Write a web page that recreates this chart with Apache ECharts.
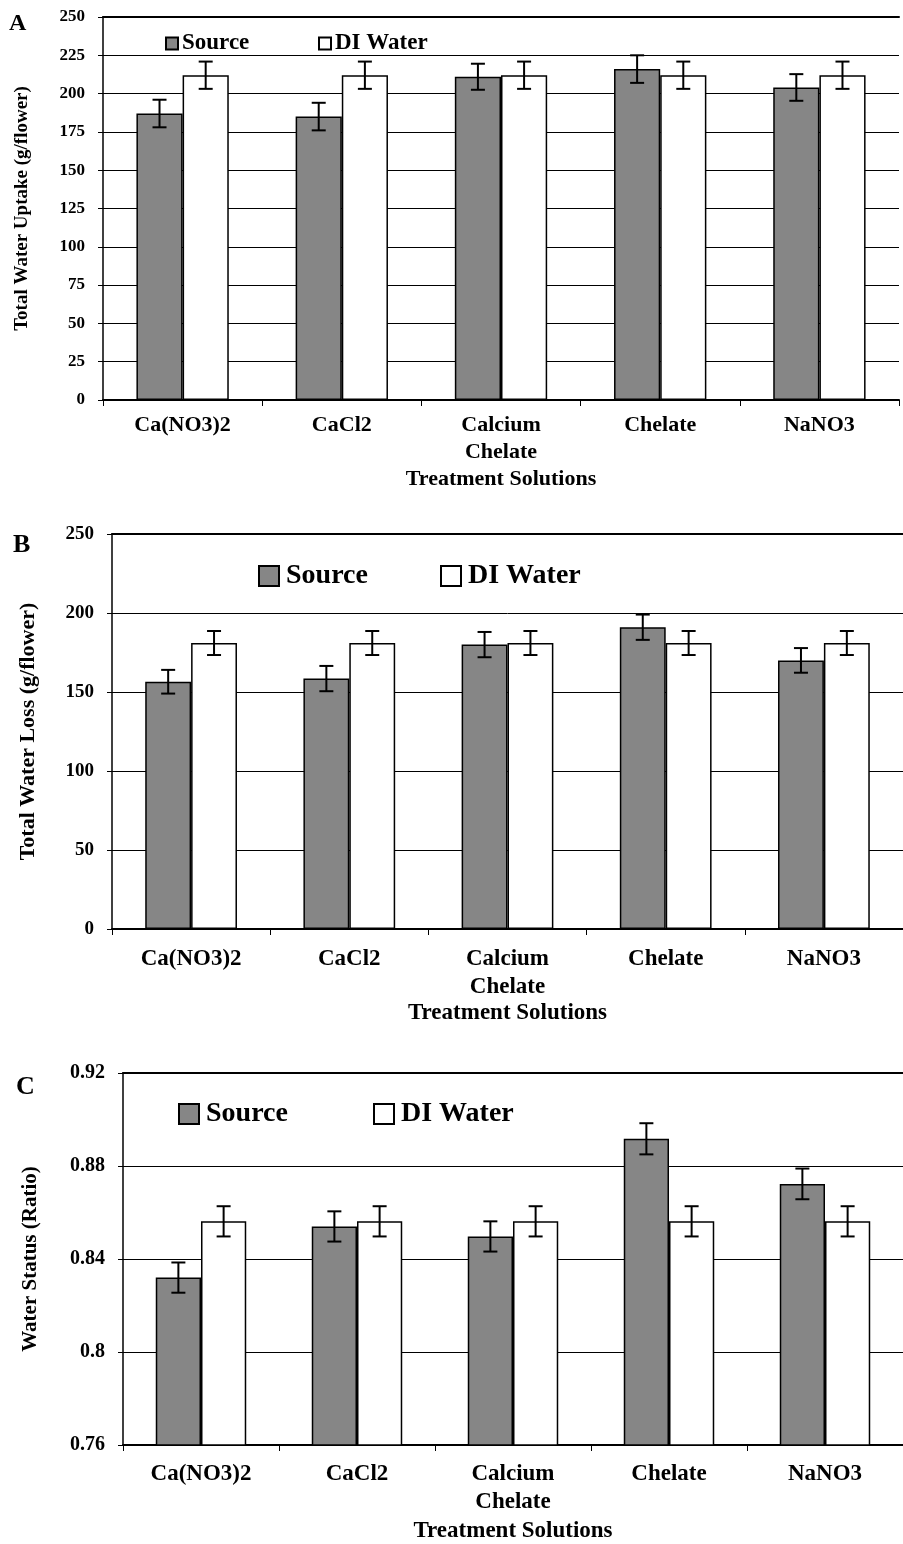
<!DOCTYPE html>
<html>
<head>
<meta charset="utf-8">
<script src="https://cdn.jsdelivr.net/npm/echarts@6/dist/echarts.min.js"></script>
<style>
html,body{margin:0;padding:0;background:#fff;overflow:hidden;}
#chart{width:903px;height:1544px;}
</style>
</head>
<body>
<div id="chart"></div>
<script>
const categories = ['Ca(NO3)2', 'CaCl2', 'Calcium\nChelate', 'Chelate', 'NaNO3'];
const seriesNames = ['Source', 'DI Water'];

const uptakeSource = [187, 185, 211, 216, 204];
const uptakeSourceErr = [9, 9, 8.5, 9, 8.7];
const uptakeDI = [212, 212, 212, 212, 212];
const uptakeDIErr = [8.9, 8.9, 8.9, 8.9, 8.9];

const lossSource = [156.5, 158.5, 180, 191, 170];
const lossSourceErr = [7.5, 8, 8, 8, 7.8];
const lossDI = [181, 181, 181, 181, 181];
const lossDIErr = [7.6, 7.6, 7.6, 7.6, 7.6];

const statusSource = [0.832, 0.854, 0.8497, 0.8917, 0.8723];
const statusSourceErr = [0.0065, 0.0065, 0.0065, 0.0067, 0.0066];
const statusDI = [0.8562, 0.8562, 0.8562, 0.8562, 0.8562];
const statusDIErr = [0.0065, 0.0065, 0.0065, 0.0065, 0.0065];

const yTitles = ['Total Water Uptake (g/flower)', 'Total Water Loss (g/flower)', 'Water Status (Ratio)'];
const xTitle = 'Treatment Solutions';
const panelLetters = ['A', 'B', 'C'];

const FONT = '"Liberation Serif", "Times New Roman", serif';
const BAR_W = 0.29;

const panels = [
  {src: uptakeSource, srcErr: uptakeSourceErr, di: uptakeDI, diErr: uptakeDIErr,
   min: 0, max: 250, interval: 25,
   grid: {left: 103, top: 17, width: 796, height: 383},
   tickFont: 17, catFont: 22, catLH: 27, catMargin: 12, nameGap: 68, xNameFont: 22,
   yNameFont: 19, yNameGap: 71, legendFont: 23, icon: 12, textPad: -1,
   legendTop: 32, legendLeft: [165, 318], letterPos: [9, 12], letterFont: 24},
  {src: lossSource, srcErr: lossSourceErr, di: lossDI, diErr: lossDIErr,
   min: 0, max: 250, interval: 50,
   grid: {left: 112, top: 534, width: 792, height: 395},
   tickFont: 19, catFont: 23, catLH: 28, catMargin: 16, nameGap: 68, xNameFont: 23,
   yNameFont: 22, yNameGap: 73, legendFont: 28, icon: 20, textPad: 2,
   legendTop: 562, legendLeft: [258, 440], letterPos: [13, 532], letterFont: 26},
  {src: statusSource, srcErr: statusSourceErr, di: statusDI, diErr: statusDIErr,
   min: 0.76, max: 0.92, interval: 0.04,
   grid: {left: 123, top: 1073, width: 787, height: 375},
   tickFont: 20, catFont: 23, catLH: 28, catMargin: 15, nameGap: 75, xNameFont: 23,
   yNameFont: 21, yNameGap: 82, legendFont: 28, icon: 20, textPad: 2,
   legendTop: 1100, legendLeft: [178, 373], letterPos: [16, 1074], letterFont: 26}
];

const option = {
  animation: false,
  backgroundColor: '#fff',
  textStyle: {fontFamily: FONT},
  grid: [], xAxis: [], yAxis: [], series: [], legend: [], graphic: []
};

function errRender(params, api) {
  const x = api.value(0);
  const side = api.value(3);
  const lo = api.coord([x, api.value(1)]);
  const hi = api.coord([x, api.value(2)]);
  const band = api.size([1, 0])[0];
  const cx = lo[0] + side * band * BAR_W / 2;
  const cap = 7;
  const st = {stroke: '#000', lineWidth: 2};
  return {type: 'group', children: [
    {type: 'line', shape: {x1: cx, y1: hi[1], x2: cx, y2: lo[1]}, style: st},
    {type: 'line', shape: {x1: cx - cap, y1: hi[1], x2: cx + cap, y2: hi[1]}, style: st},
    {type: 'line', shape: {x1: cx - cap, y1: lo[1], x2: cx + cap, y2: lo[1]}, style: st}
  ]};
}

panels.forEach((p, i) => {
  option.grid.push(Object.assign({containLabel: false}, p.grid));
  option.xAxis.push({
    type: 'category', gridIndex: i, data: categories,
    name: xTitle, nameLocation: 'middle', nameGap: p.nameGap,
    nameTextStyle: {fontFamily: FONT, fontWeight: 'bold', fontSize: p.xNameFont, color: '#000'},
    axisLine: {lineStyle: {color: '#000', width: 2}},
    axisTick: {show: true, length: 6, lineStyle: {color: '#000', width: 1}},
    axisLabel: {fontFamily: FONT, fontWeight: 'bold', fontSize: p.catFont, color: '#000',
      lineHeight: p.catLH, margin: p.catMargin, interval: 0},
    splitLine: {show: false}
  });
  option.xAxis.push({
    type: 'category', gridIndex: i, data: categories, position: 'top',
    axisLine: {show: true, lineStyle: {color: '#000', width: 2}},
    axisTick: {show: false}, axisLabel: {show: false}, splitLine: {show: false}
  });
  option.yAxis.push({
    type: 'value', gridIndex: i, min: p.min, max: p.max, interval: p.interval,
    name: yTitles[i], nameLocation: 'middle', nameGap: p.yNameGap,
    nameTextStyle: {fontFamily: FONT, fontWeight: 'bold', fontSize: p.yNameFont, color: '#000'},
    axisLine: {show: true, lineStyle: {color: '#000', width: 1.5}},
    axisTick: {show: true, length: 5, lineStyle: {color: '#000'}},
    axisLabel: {fontFamily: FONT, fontWeight: 'bold', fontSize: p.tickFont, color: '#000', margin: 18,
      formatter: v => String(+(+v).toFixed(2))},
    splitLine: {show: true, lineStyle: {color: '#000', width: 1}}
  });
  const xi = i * 2;
  option.series.push({
    name: seriesNames[0], type: 'bar', xAxisIndex: xi, yAxisIndex: i, data: p.src,
    barWidth: (BAR_W * 100) + '%', barGap: '0%',
    itemStyle: {color: '#868686', borderColor: '#000', borderWidth: 1.5}, z: 3
  });
  option.series.push({
    name: seriesNames[1], type: 'bar', xAxisIndex: xi, yAxisIndex: i, data: p.di,
    barWidth: (BAR_W * 100) + '%', barGap: '0%',
    itemStyle: {color: '#fff', borderColor: '#000', borderWidth: 1.5}, z: 3
  });
  const errData = [];
  p.src.forEach((v, k) => errData.push([k, v - p.srcErr[k], v + p.srcErr[k], -1]));
  p.di.forEach((v, k) => errData.push([k, v - p.diErr[k], v + p.diErr[k], 1]));
  option.series.push({
    name: 'err' + i, type: 'custom', xAxisIndex: xi, yAxisIndex: i,
    renderItem: errRender, data: errData, z: 10, silent: true,
    encode: {x: 0, y: [1, 2]}
  });
  seriesNames.forEach((n, k) => {
    option.legend.push({
      data: [n], left: p.legendLeft[k], top: p.legendTop, padding: 0,
      icon: 'rect', itemWidth: p.icon, itemHeight: p.icon, itemGap: 0,
      selectedMode: false,
      textStyle: {fontFamily: FONT, fontWeight: 'bold', fontSize: p.legendFont, color: '#000', padding: [0, 0, 0, p.textPad]}
    });
  });
  option.graphic.push({
    type: 'text', left: p.letterPos[0], top: p.letterPos[1],
    style: {text: panelLetters[i], font: 'bold ' + p.letterFont + 'px ' + FONT, fill: '#000'}
  });
});

const chart = echarts.init(document.getElementById('chart'), null, {renderer: 'canvas'});
chart.setOption(option);
</script>
</body>
</html>
